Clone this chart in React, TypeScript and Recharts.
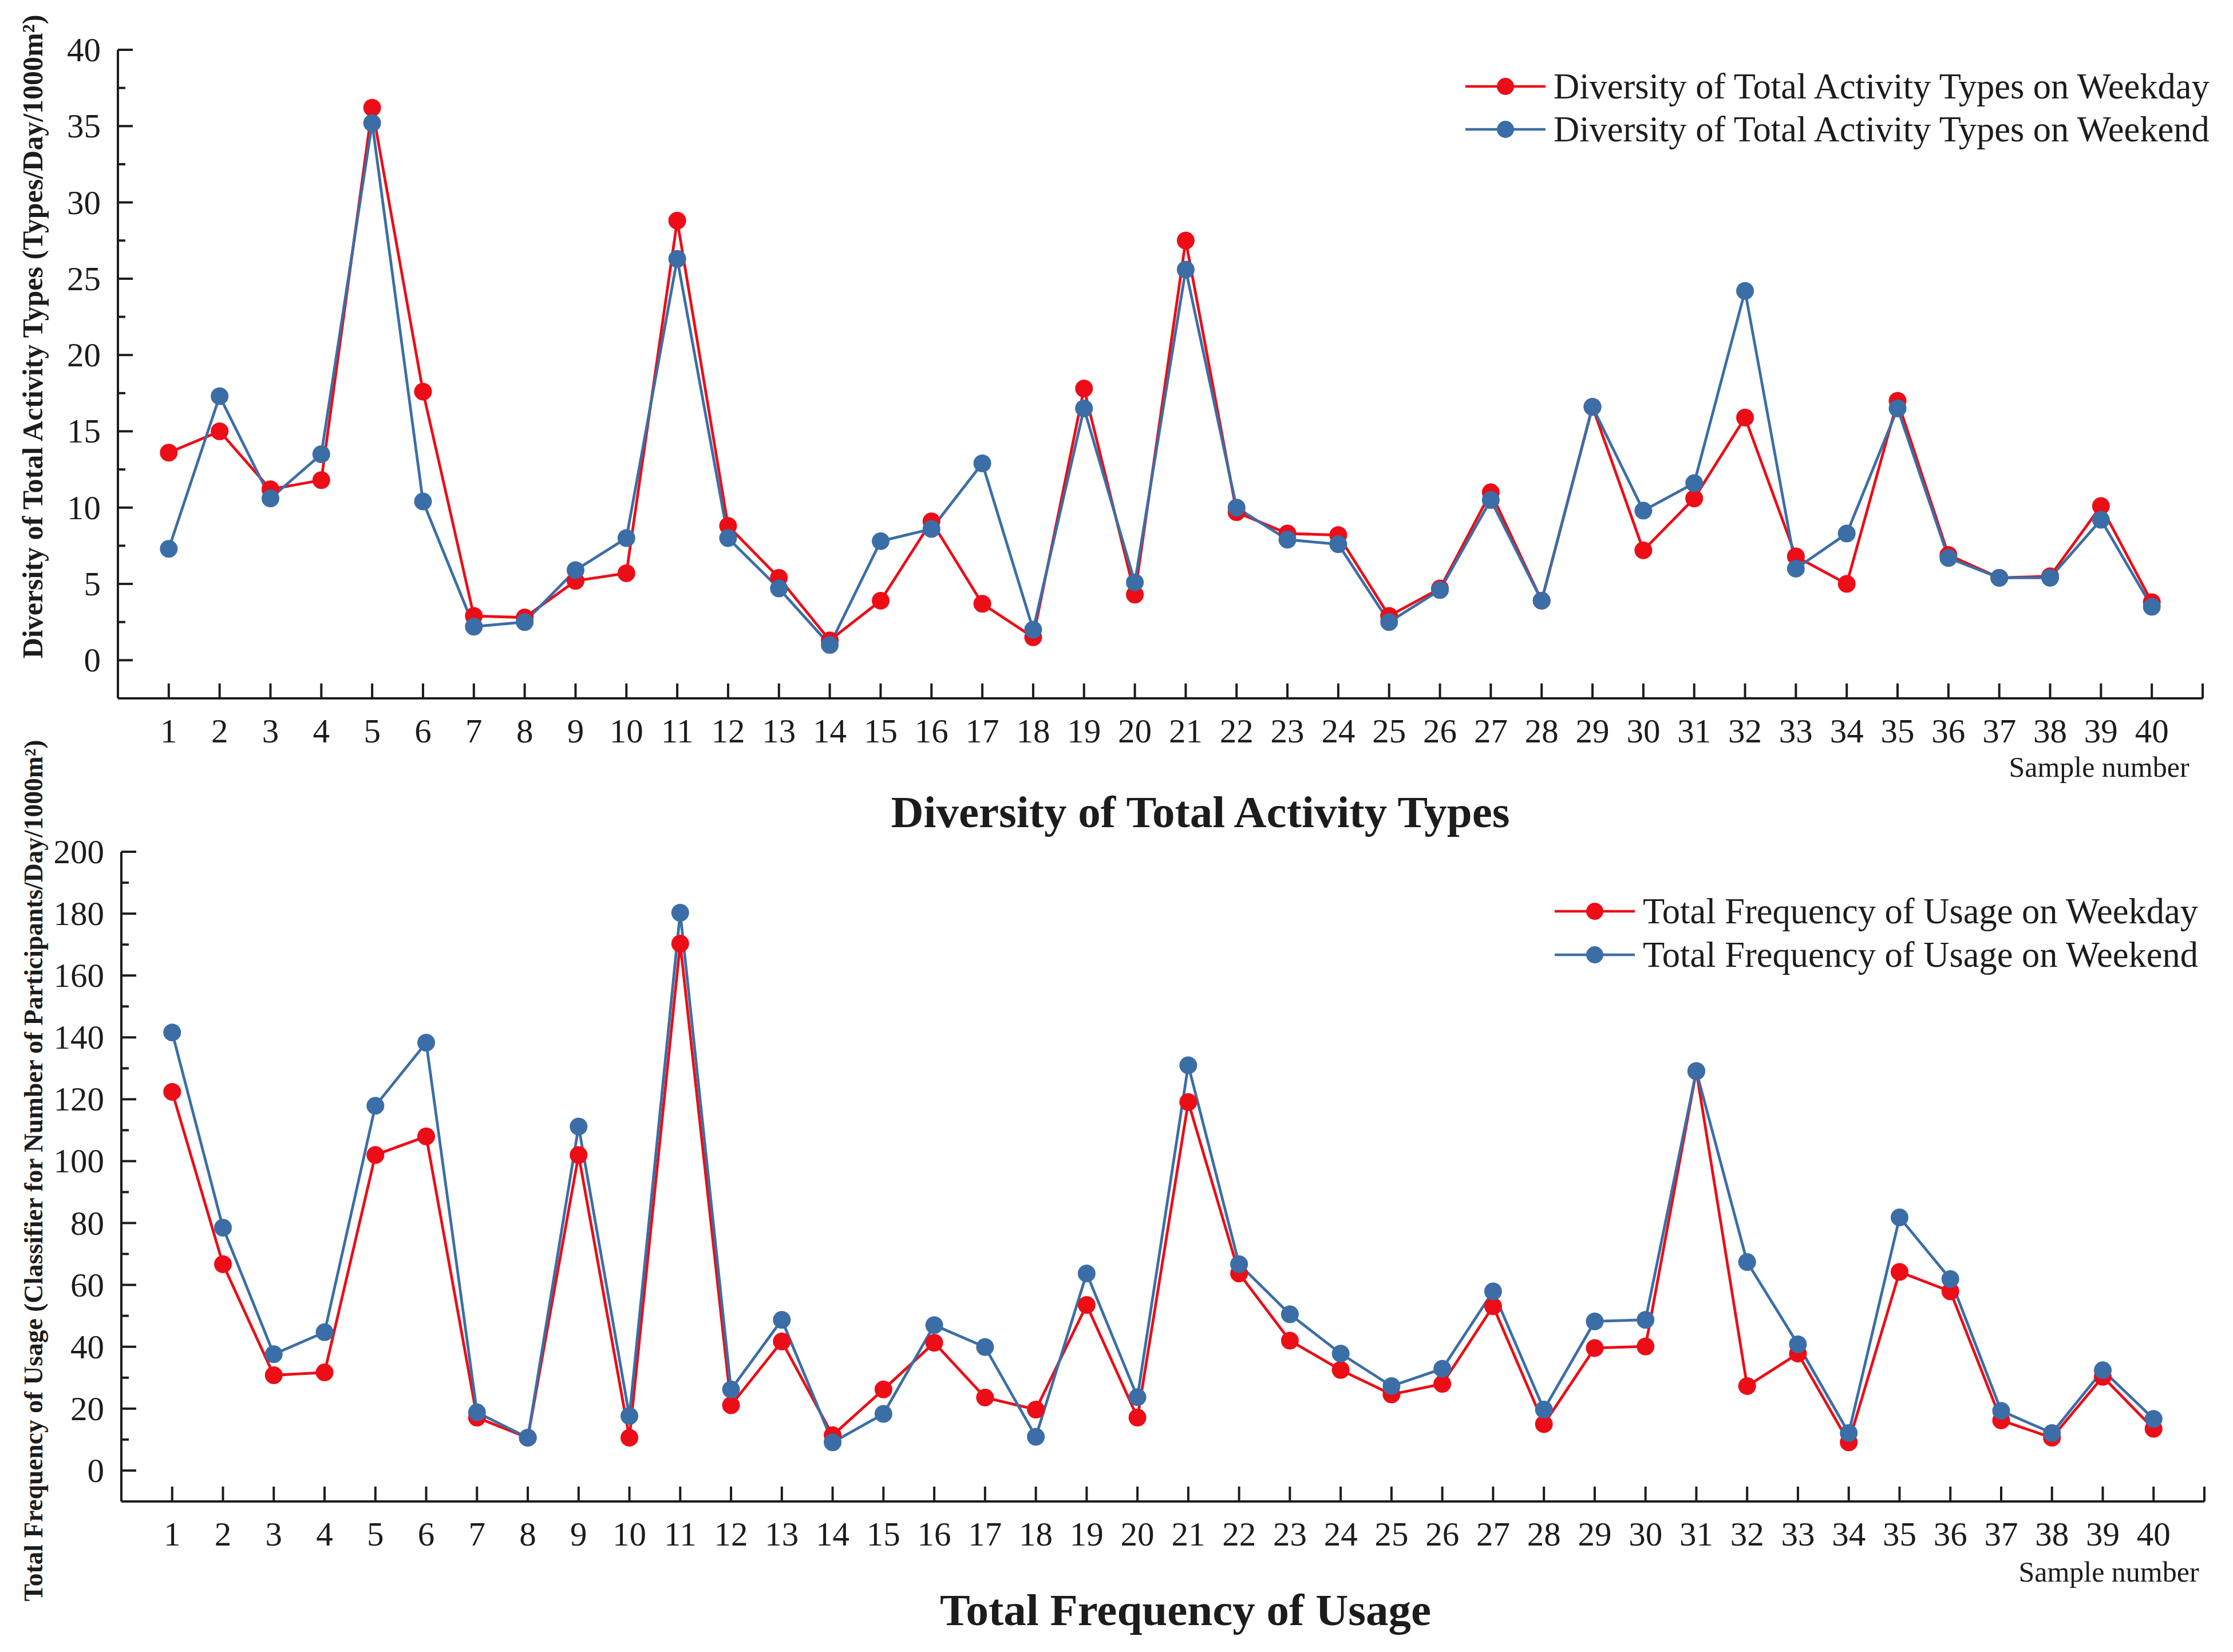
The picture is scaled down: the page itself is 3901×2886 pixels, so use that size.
import React from "react";
import { LineChart, Line, XAxis, YAxis, Legend } from "recharts";

const FONT = '"Liberation Serif", "Times New Roman", Times, serif';
const RED = "#EC0D17";
const BLUE = "#3B6EA6";
const INK = "#1c1c1c";

const SAMPLES = [1, 2, 3, 4, 5, 6, 7, 8, 9, 10, 11, 12, 13, 14, 15, 16, 17, 18, 19, 20,
  21, 22, 23, 24, 25, 26, 27, 28, 29, 30, 31, 32, 33, 34, 35, 36, 37, 38, 39, 40];
const X_TICKS = [...SAMPLES, 41];

const DIVERSITY_WEEKDAY = [13.6, 15.0, 11.2, 11.8, 36.2, 17.6, 2.9, 2.8, 5.2, 5.7, 28.8, 8.8, 5.4, 1.3, 3.9, 9.1, 3.7, 1.5, 17.8, 4.3,
  27.5, 9.7, 8.3, 8.2, 2.9, 4.7, 11.0, 3.9, 16.6, 7.2, 10.6, 15.9, 6.8, 5.0, 17.0, 6.9, 5.4, 5.5, 10.1, 3.8];
const DIVERSITY_WEEKEND = [7.3, 17.3, 10.6, 13.5, 35.2, 10.4, 2.2, 2.5, 5.9, 8.0, 26.3, 8.0, 4.7, 1.0, 7.8, 8.6, 12.9, 2.0, 16.5, 5.1,
  25.6, 10.0, 7.9, 7.6, 2.5, 4.6, 10.5, 3.9, 16.6, 9.8, 11.6, 24.2, 6.0, 8.3, 16.5, 6.7, 5.4, 5.4, 9.2, 3.5];

const FREQ_WEEKDAY = [122.4, 66.7, 30.8, 31.7, 102, 108, 17.1, 10.6, 102, 10.6, 170.3, 21.1, 41.7, 11.4, 26.2, 41.3, 23.6, 19.7, 53.5, 17.1,
  119.1, 63.7, 42, 32.5, 24.6, 28, 53.1, 15, 39.6, 40.1, 129.1, 27.3, 37.8, 9.1, 64.2, 57.9, 16.2, 10.6, 30.3, 13.5];
const FREQ_WEEKEND = [141.6, 78.5, 37.6, 44.7, 117.9, 138.3, 18.8, 10.6, 111.2, 17.6, 180.3, 26.2, 48.7, 9.1, 18.3, 47, 39.9, 10.9, 63.7, 23.7,
  131, 66.7, 50.5, 37.8, 27.3, 32.9, 57.9, 19.7, 48.2, 48.7, 129.1, 67.4, 40.8, 12.1, 81.8, 61.9, 19.3, 12.1, 32.4, 16.7];

const DIVERSITY_TICKS = [0, 2.5, 5, 7.5, 10, 12.5, 15, 17.5, 20, 22.5, 25, 27.5, 30, 32.5, 35, 37.5, 40];
const FREQ_TICKS = [0, 10, 20, 30, 40, 50, 60, 70, 80, 90, 100, 110, 120, 130, 140, 150, 160, 170, 180, 190, 200];

const diversityData = SAMPLES.map((s, i) => ({ sample: s, weekday: DIVERSITY_WEEKDAY[i], weekend: DIVERSITY_WEEKEND[i] }));
const freqData = SAMPLES.map((s, i) => ({ sample: s, weekday: FREQ_WEEKDAY[i], weekend: FREQ_WEEKEND[i] }));

const makeYTick = (majorStep: number) => (props: any) => {
  const { x, y, payload } = props;
  const v = payload.value;
  const major = Math.abs(v / majorStep - Math.round(v / majorStep)) < 1e-6;
  return (
    <g>
      <line x1={x} x2={x + (major ? 26 : 13)} y1={y} y2={y} stroke={INK} strokeWidth={4} />
      {major && (
        <text x={x - 30} y={y} textAnchor="end" dominantBaseline="central" fontFamily={FONT} fontSize={59} fill={INK}>
          {v}
        </text>
      )}
    </g>
  );
};

const XTick = (props: any) => {
  const { x, y, payload } = props;
  const v = payload.value;
  return (
    <g>
      <line x1={x} x2={x} y1={y} y2={y - 26} stroke={INK} strokeWidth={4} />
      {v <= 40 && (
        <text x={x} y={y + 57} textAnchor="middle" dominantBaseline="central" fontFamily={FONT} fontSize={59} fill={INK}>
          {v}
        </text>
      )}
    </g>
  );
};

const makeLegend = (rowGap: number) => (props: any) => {
  const items = props.payload || [];
  return (
    <svg width={1400} height={rowGap * items.length + 40} style={{ display: "block", overflow: "visible" }}>
      {items.map((it: any, i: number) => {
        const cy = 38 + i * rowGap;
        return (
          <g key={i}>
            <line x1={0} x2={140} y1={cy} y2={cy} stroke={it.color} strokeWidth={4.5} />
            <circle cx={70} cy={cy} r={15} fill={it.color} />
            <text x={154} y={cy} dominantBaseline="central" fontFamily={FONT} fontSize={62.5} fill={INK}>
              {it.value}
            </text>
          </g>
        );
      })}
    </svg>
  );
};

function Panel(props: {
  data: any[];
  height: number;
  top: number;
  yWidth: number;
  xHeight: number;
  right: number;
  domain: [number, number];
  ticks: number[];
  majorStep: number;
  names: [string, string];
  legendLeft: number;
  legendTop: number;
  legendGap: number;
}) {
  const p = props;
  return (
    <LineChart
      width={3901}
      height={p.height}
      data={p.data}
      margin={{ top: p.top, right: p.right, bottom: 0, left: 0 }}
    >
      <XAxis
        dataKey="sample"
        type="number"
        domain={[0, 41]}
        ticks={X_TICKS}
        interval={0}
        height={p.xHeight}
        tickSize={0}
        tickMargin={0}
        tick={XTick}
        axisLine={{ stroke: INK, strokeWidth: 4 }}
        tickLine={false}
        allowDataOverflow
      />
      <YAxis
        type="number"
        domain={p.domain}
        ticks={p.ticks}
        interval={0}
        width={p.yWidth}
        tickSize={0}
        tickMargin={0}
        tick={makeYTick(p.majorStep)}
        axisLine={{ stroke: INK, strokeWidth: 4 }}
        tickLine={false}
        allowDataOverflow
      />
      <Legend
        layout="vertical"
        align="center"
        verticalAlign="middle"
        content={makeLegend(p.legendGap)}
        wrapperStyle={{ position: "absolute", left: p.legendLeft, top: p.legendTop, width: 1400 }}
      />
      <Line
        type="linear"
        dataKey="weekday"
        name={p.names[0]}
        stroke={RED}
        strokeWidth={4.8}
        dot={{ r: 15.5, fill: RED, stroke: RED, strokeWidth: 0 }}
        activeDot={false}
        isAnimationActive={false}
      />
      <Line
        type="linear"
        dataKey="weekend"
        name={p.names[1]}
        stroke={BLUE}
        strokeWidth={4.8}
        dot={{ r: 15.5, fill: BLUE, stroke: BLUE, strokeWidth: 0 }}
        activeDot={false}
        isAnimationActive={false}
      />
    </LineChart>
  );
}

export default function App() {
  return (
    <div style={{ position: "absolute", left: 0, top: 0, width: 3901, height: 2886, background: "#fff", overflow: "hidden" }}>
      <div style={{ position: "absolute", left: 0, top: 0 }}>
        <Panel
          data={diversityData}
          height={1440}
          top={87}
          yWidth={206}
          xHeight={220}
          right={53}
          domain={[-2.5, 40]}
          ticks={DIVERSITY_TICKS}
          majorStep={5}
          names={["Diversity of Total Activity Types on Weekday", "Diversity of Total Activity Types on Weekend"]}
          legendLeft={2560}
          legendTop={113}
          legendGap={75}
        />
      </div>
      <div style={{ position: "absolute", left: 0, top: 1440 }}>
        <Panel
          data={freqData}
          height={1446}
          top={48}
          yWidth={212}
          xHeight={263}
          right={50}
          domain={[-10, 200]}
          ticks={FREQ_TICKS}
          majorStep={20}
          names={["Total Frequency of Usage on Weekday", "Total Frequency of Usage on Weekend"]}
          legendLeft={2716}
          legendTop={114}
          legendGap={76}
        />
      </div>
      <svg width={3901} height={2886} style={{ position: "absolute", left: 0, top: 0, pointerEvents: "none" }}>
        <text x={2097} y={1418} textAnchor="middle" dominantBaseline="central" fontFamily={FONT} fontWeight="bold" fontSize={79} fill={INK}>
          Diversity of Total Activity Types
        </text>
        <text x={2071} y={2812} textAnchor="middle" dominantBaseline="central" fontFamily={FONT} fontWeight="bold" fontSize={79} fill={INK}>
          Total Frequency of Usage
        </text>
        <text x={3667} y={1340} textAnchor="middle" dominantBaseline="central" fontFamily={FONT} fontSize={50} fill={INK}>
          Sample number
        </text>
        <text x={3684} y={2746} textAnchor="middle" dominantBaseline="central" fontFamily={FONT} fontSize={50} fill={INK}>
          Sample number
        </text>
        <text transform="translate(57,588) rotate(-90)" textAnchor="middle" dominantBaseline="central" fontFamily={FONT} fontWeight="bold" fontSize={50} fill={INK}>
          Diversity of Total Activity Types (Types/Day/1000m²)
        </text>
        <text transform="translate(58,2045) rotate(-90)" textAnchor="middle" dominantBaseline="central" fontFamily={FONT} fontWeight="bold" fontSize={45.5} fill={INK}>
          Total Frequency of Usage (Classifier for Number of Participants/Day/1000m²)
        </text>
      </svg>
    </div>
  );
}
